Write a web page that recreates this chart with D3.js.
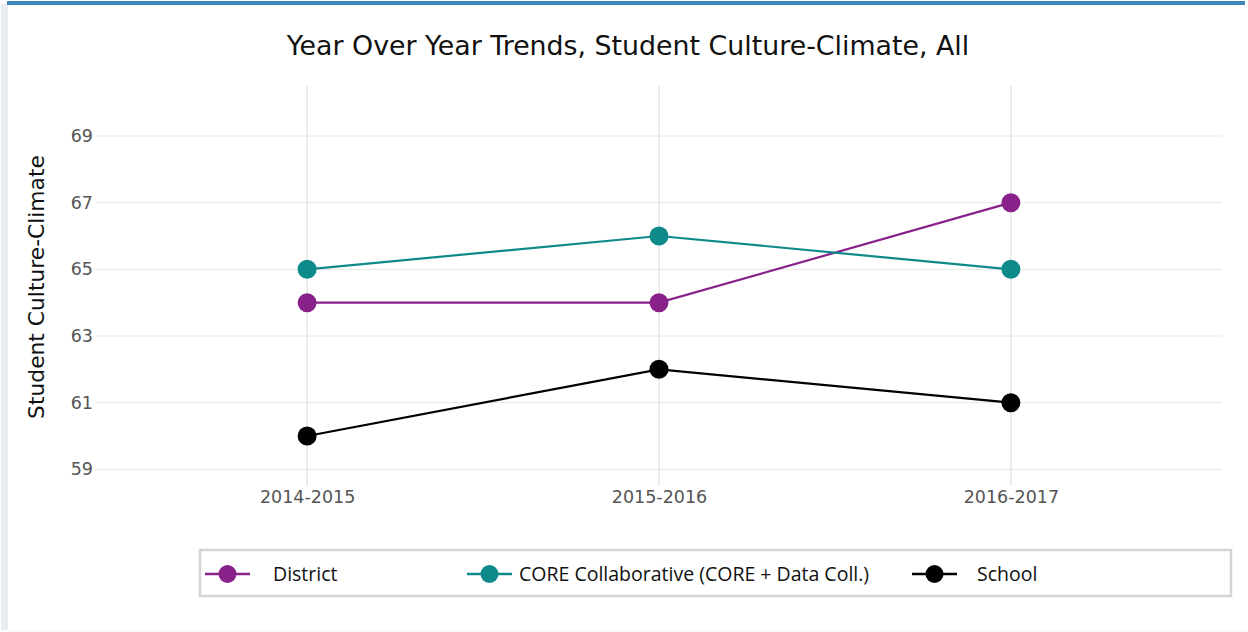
<!DOCTYPE html>
<html><head><meta charset="utf-8">
<script src="https://cdn.jsdelivr.net/npm/d3@7"></script>
<style>
html,body{margin:0;padding:0;background:#fff;}
svg{display:block;}
</style></head>
<body>
<svg id="c" width="1248" height="632"></svg>
<script>
const years = ["2014-2015", "2015-2016", "2016-2017"];
const districtValues = [64, 64, 67];
const coreValues = [65, 66, 65];
const schoolValues = [60, 62, 61];
const yTicks = [59, 61, 63, 65, 67, 69];
const seriesNames = ["District", "CORE Collaborative (CORE + Data Coll.)", "School"];
const seriesColors = ["#88228a", "#0e8a8a", "#000000"];
const seriesValues = [districtValues, coreValues, schoolValues];

(function(){
const svg = d3.select("#c");
// panel frame
svg.append("rect").attr("x",0).attr("y",0).attr("width",1248).attr("height",632).attr("fill","#fff");
svg.append("rect").attr("x",1).attr("y",4).attr("width",7).attr("height",626).attr("fill","#e9edf2");
svg.append("rect").attr("x",7).attr("y",1).attr("width",1238).attr("height",4).attr("fill","#3d87b9");
svg.append("line").attr("x1",8).attr("x2",1248).attr("y1",631).attr("y2",631).attr("stroke","#eef0f3");

const pL = 96, pR = 1222, pT = 86, pB = 486;
const x = d3.scaleLinear().domain([-0.6, 2.6]).range([pL, pR]);
const y = d3.scaleLinear().domain([58.5, 70.5]).range([pB, pT]);

// grid
const g = svg.append("g");
g.selectAll(".hg").data(yTicks).join("line")
  .attr("x1", pL).attr("x2", pR)
  .attr("y1", d => y(d)).attr("y2", d => y(d))
  .attr("stroke", "#e6e6e6").attr("stroke-width", 1);
g.selectAll(".vg").data(years).join("line")
  .attr("x1", (d,i) => x(i)).attr("x2", (d,i) => x(i))
  .attr("y1", pT).attr("y2", pB)
  .attr("stroke", "#e6e6e6").attr("stroke-width", 1.5);

// axes via d3
const yAxis = d3.axisLeft(y).tickValues(yTicks).tickSize(0).tickPadding(3);
const ya = svg.append("g").attr("transform", `translate(${pL},0)`).call(yAxis);
ya.select(".domain").remove();
ya.selectAll("text").attr("font-family","'DejaVu Sans', Verdana, sans-serif").attr("font-size",17.5).attr("fill","#555");

const xAxis = d3.axisBottom(x).tickValues([0,1,2]).tickFormat(i => years[i]).tickSize(0).tickPadding(5);
const xa = svg.append("g").attr("transform", `translate(0,${pB})`).call(xAxis);
xa.select(".domain").remove();
xa.selectAll("text").attr("font-family","'DejaVu Sans', Verdana, sans-serif").attr("font-size",17.5).attr("fill","#555");

// title
svg.append("text").attr("x", 628).attr("y", 55).attr("text-anchor","middle")
  .attr("font-family","'DejaVu Sans', Verdana, sans-serif").attr("font-size",26.8).attr("fill","#111")
  .text("Year Over Year Trends, Student Culture-Climate, All");
svg.append("text").attr("transform","translate(44,287) rotate(-90)").attr("text-anchor","middle")
  .attr("font-family","'DejaVu Sans', Verdana, sans-serif").attr("font-size",21.8).attr("fill","#111")
  .text("Student Culture-Climate");

// series
const line = d3.line().x((d,i) => x(i)).y(d => y(d));
seriesValues.forEach((vals, s) => {
  svg.append("path").datum(vals).attr("d", line).attr("fill","none")
    .attr("stroke", seriesColors[s]).attr("stroke-width", 2.2);
  svg.selectAll(null).data(vals).join("circle")
    .attr("cx", (d,i) => x(i)).attr("cy", d => y(d)).attr("r", 9.5)
    .attr("fill", seriesColors[s]);
});

// legend
svg.append("rect").attr("x",200).attr("y",550).attr("width",1031).attr("height",46)
  .attr("fill","#fff").attr("stroke","#d4d4d4").attr("stroke-width",2.5);
const legX = [205, 467, 912];
const legTextX = [273, 519, 977];
seriesNames.forEach((n, s) => {
  const lg = svg.append("g");
  lg.append("line").attr("x1", legX[s]).attr("x2", legX[s]+45).attr("y1",574).attr("y2",574)
    .attr("stroke", seriesColors[s]).attr("stroke-width", 2.5);
  lg.append("circle").attr("cx", legX[s]+22.5).attr("cy",574).attr("r",9).attr("fill",seriesColors[s]);
  lg.append("text").attr("x", legTextX[s]).attr("y", 581)
    .attr("font-family","'Open Sans', 'Noto Sans', sans-serif").attr("font-size",19.5)
    .attr("fill", "#111").text(n);
});
})();
</script>
</body></html>
